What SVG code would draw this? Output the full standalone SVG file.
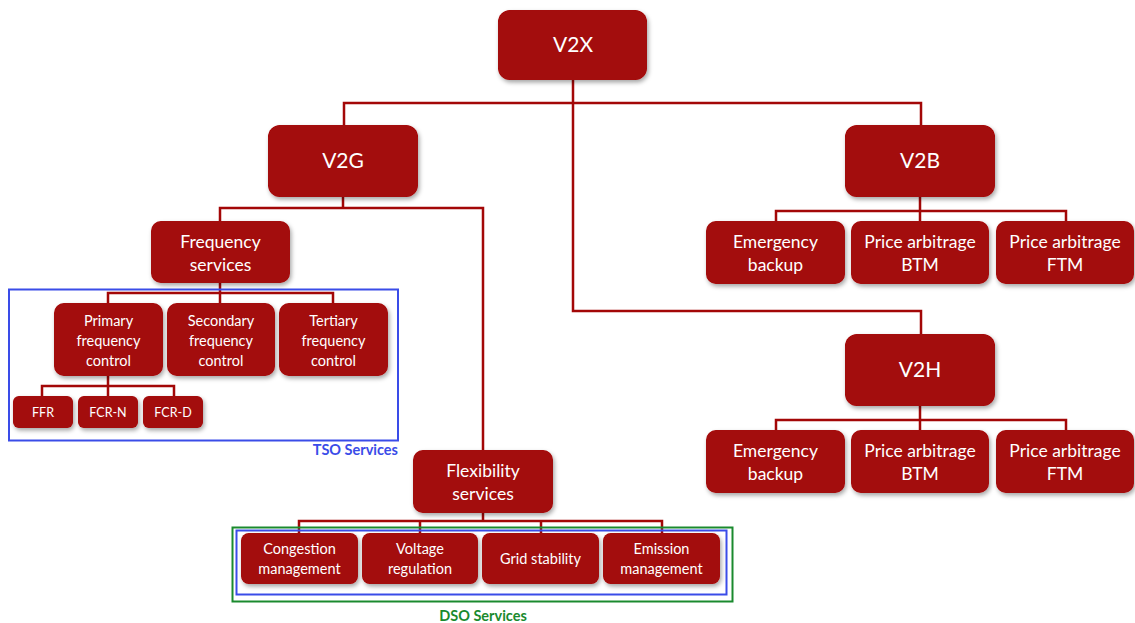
<svg xmlns="http://www.w3.org/2000/svg" width="1135" height="623" viewBox="0 0 1135 623">
  <defs>
    <filter id="shadow" x="-10%" y="-10%" width="125%" height="135%">
      <feDropShadow dx="1.5" dy="2.5" stdDeviation="2" flood-color="#000" flood-opacity="0.35"/>
    </filter>
    <style>
      .node rect { fill: #a30707; filter: url(#shadow); }
      .node text { fill: #ffffff; font-family: Lato, "Open Sans", "Liberation Sans", sans-serif; text-anchor: middle; }
      .t1 { font-size: 21px; }
      .t2 { font-size: 17.5px; }
      .t3 { font-size: 14.5px; }
      .t4 { font-size: 12.5px; }
      .conn { fill: none; stroke: #a30707; stroke-width: 2.5; }
      .label { font-family: Lato, "Open Sans", "Liberation Sans", sans-serif; font-weight: bold; font-size: 14.5px; }
    </style>
  </defs>
  <rect width="1135" height="623" fill="#ffffff"/>

  <!-- connectors -->
  <g id="connectors" class="conn">
    <path d="M573,80 V311 H921 V334"/>
    <path d="M344,125 V103 H921 V125"/>
    <path d="M220,221 V208 H483 V450"/>
    <path d="M343,197 V208"/>
    <path d="M108,303 V293 H333 V303 M220,283 V303"/>
    <path d="M42,396 V386 H174 V396 M108,376 V396"/>
    <path d="M299,533 V521 H662 V533 M420,521 V533 M541,521 V533 M483,513 V521"/>
    <path d="M776,221 V211 H1066 V221 M920,197 V221"/>
    <path d="M776,430 V420 H1066 V430 M920,406 V430"/>
  </g>

  <!-- grouping frames -->
  <g id="tso-services">
    <rect x="9" y="289.5" width="389" height="151" fill="none" stroke="#3a4ce8" stroke-width="2"/>
    <text class="label" x="398" y="455" fill="#3a4ce8" text-anchor="end">TSO Services</text>
  </g>
  <g id="dso-services">
    <rect x="232.5" y="527.5" width="500" height="74" fill="none" stroke="#1a8a2e" stroke-width="2"/>
    <rect x="236.5" y="530.5" width="490" height="64" fill="none" stroke="#3a4ce8" stroke-width="2"/>
    <text class="label" x="483" y="621" fill="#1a8a2e" text-anchor="middle">DSO Services</text>
  </g>

  <!-- nodes -->
  <g id="v2x" class="node">
    <rect x="498" y="10" width="149" height="70" rx="12"/>
    <text class="t1" x="573" y="52">V2X</text>
  </g>
  <g id="v2g" class="node">
    <rect x="268" y="125" width="150" height="72" rx="12"/>
    <text class="t1" x="343" y="168">V2G</text>
  </g>
  <g id="v2b" class="node">
    <rect x="845" y="125" width="150" height="72" rx="12"/>
    <text class="t1" x="920" y="168">V2B</text>
  </g>
  <g id="v2h" class="node">
    <rect x="845" y="334" width="150" height="72" rx="12"/>
    <text class="t1" x="920" y="377">V2H</text>
  </g>

  <g id="frequency-services" class="node">
    <rect x="151" y="221" width="139" height="62" rx="10"/>
    <text class="t2" x="220.5" y="248">Frequency</text>
    <text class="t2" x="220.5" y="271">services</text>
  </g>
  <g id="primary-frequency-control" class="node">
    <rect x="54" y="303" width="109" height="73" rx="10"/>
    <text class="t3" x="108.5" y="326">Primary</text>
    <text class="t3" x="108.5" y="346">frequency</text>
    <text class="t3" x="108.5" y="366">control</text>
  </g>
  <g id="secondary-frequency-control" class="node">
    <rect x="167" y="303" width="108" height="73" rx="10"/>
    <text class="t3" x="221" y="326">Secondary</text>
    <text class="t3" x="221" y="346">frequency</text>
    <text class="t3" x="221" y="366">control</text>
  </g>
  <g id="tertiary-frequency-control" class="node">
    <rect x="279" y="303" width="109" height="73" rx="10"/>
    <text class="t3" x="333.5" y="326">Tertiary</text>
    <text class="t3" x="333.5" y="346">frequency</text>
    <text class="t3" x="333.5" y="366">control</text>
  </g>
  <g id="ffr" class="node">
    <rect x="13" y="396" width="60" height="32" rx="6"/>
    <text class="t4" x="43" y="416.5">FFR</text>
  </g>
  <g id="fcr-n" class="node">
    <rect x="78" y="396" width="60" height="32" rx="6"/>
    <text class="t4" x="108" y="416.5">FCR-N</text>
  </g>
  <g id="fcr-d" class="node">
    <rect x="143" y="396" width="60" height="32" rx="6"/>
    <text class="t4" x="173" y="416.5">FCR-D</text>
  </g>

  <g id="flexibility-services" class="node">
    <rect x="413" y="450" width="140" height="63" rx="10"/>
    <text class="t2" x="483" y="477">Flexibility</text>
    <text class="t2" x="483" y="500">services</text>
  </g>
  <g id="congestion-management" class="node">
    <rect x="241" y="533" width="117" height="51" rx="8"/>
    <text class="t3" x="299.5" y="554">Congestion</text>
    <text class="t3" x="299.5" y="574">management</text>
  </g>
  <g id="voltage-regulation" class="node">
    <rect x="362" y="533" width="116" height="51" rx="8"/>
    <text class="t3" x="420" y="554">Voltage</text>
    <text class="t3" x="420" y="574">regulation</text>
  </g>
  <g id="grid-stability" class="node">
    <rect x="482" y="533" width="117" height="51" rx="8"/>
    <text class="t3" x="540.5" y="564">Grid stability</text>
  </g>
  <g id="emission-management" class="node">
    <rect x="603" y="533" width="117" height="51" rx="8"/>
    <text class="t3" x="661.5" y="554">Emission</text>
    <text class="t3" x="661.5" y="574">management</text>
  </g>

  <g id="v2b-emergency-backup" class="node">
    <rect x="706" y="221" width="139" height="63" rx="10"/>
    <text class="t2" x="775.5" y="248">Emergency</text>
    <text class="t2" x="775.5" y="271">backup</text>
  </g>
  <g id="v2b-price-arbitrage-btm" class="node">
    <rect x="851" y="221" width="138" height="63" rx="10"/>
    <text class="t2" x="920" y="248">Price arbitrage</text>
    <text class="t2" x="920" y="271">BTM</text>
  </g>
  <g id="v2b-price-arbitrage-ftm" class="node">
    <rect x="996" y="221" width="138" height="63" rx="10"/>
    <text class="t2" x="1065" y="248">Price arbitrage</text>
    <text class="t2" x="1065" y="271">FTM</text>
  </g>

  <g id="v2h-emergency-backup" class="node">
    <rect x="706" y="430" width="139" height="63" rx="10"/>
    <text class="t2" x="775.5" y="457">Emergency</text>
    <text class="t2" x="775.5" y="480">backup</text>
  </g>
  <g id="v2h-price-arbitrage-btm" class="node">
    <rect x="851" y="430" width="138" height="63" rx="10"/>
    <text class="t2" x="920" y="457">Price arbitrage</text>
    <text class="t2" x="920" y="480">BTM</text>
  </g>
  <g id="v2h-price-arbitrage-ftm" class="node">
    <rect x="996" y="430" width="138" height="63" rx="10"/>
    <text class="t2" x="1065" y="457">Price arbitrage</text>
    <text class="t2" x="1065" y="480">FTM</text>
  </g>
</svg>
